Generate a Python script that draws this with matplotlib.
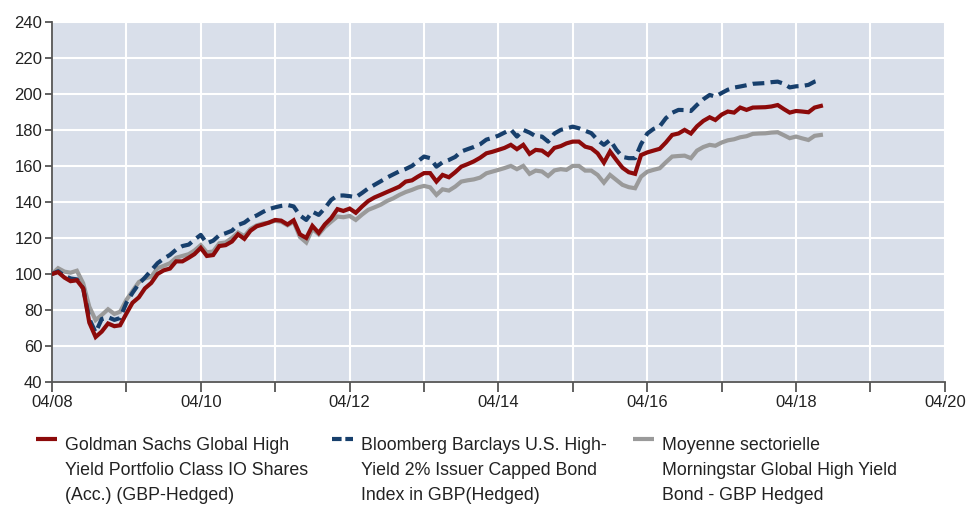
import matplotlib
matplotlib.use("Agg")
import matplotlib.pyplot as plt
from matplotlib import font_manager
from matplotlib.lines import Line2D
import pandas as pd

# monthly values, 04/2008 .. 08/2018 (base 100)
fund = [100, 101, 98, 96, 96.5, 92, 73, 65, 68, 72.5, 71, 71.5,
        78, 84, 87, 92, 95, 100, 102, 103, 107, 107, 109, 111,
        114.5, 110, 110.5, 115.5, 116, 118, 122, 119.5, 124, 126.5, 127.5, 128.5,
        130, 129.6, 127.5, 129.8, 122, 120, 126.7, 122.8, 127.5, 131, 136, 135,
        136.3, 134, 137.5, 140.5, 142.5, 144, 145.5, 147, 148.5, 151.3, 152, 154,
        156, 156, 151.3, 155, 153.7, 156.5, 159.6, 161, 162.5, 164.5, 167, 167.8,
        168.9, 170, 171.7, 169.3, 171.7, 166.7, 168.9, 168.5, 166.1, 170, 171, 172.5,
        173.5, 173.5, 170.7, 169.8, 167, 161.8, 168, 163.3, 159, 156.5, 155.6, 166,
        167.5, 168.5, 169.5, 173, 177.2, 178, 180, 178, 182, 185, 187, 185.5,
        188.5, 190.2, 189.6, 192.4, 191.1, 192.4, 192.5, 192.6, 193, 193.8, 191.5, 189.6,
        190.5, 190.2, 189.8, 192.4, 193.3]

index = [100, 101.5, 99, 97.5, 97, 92, 75, 67.5, 75, 76, 74.5, 75.5,
         84, 89.5, 94.5, 98, 102, 106, 108.5, 110.6, 113.5, 115.5, 116.3, 119,
         121.7, 117, 118.5, 121.5, 122.6, 124, 127.2, 128.5, 131, 132.5, 134.5, 136,
         137, 137.8, 138.3, 137.5, 132.5, 130, 134.6, 132.8, 136.5, 141.1, 143.5, 143.6,
         143.2, 142.6, 145, 147.5, 149.5, 151.5, 153.5, 155.3, 157, 158.3, 160, 162.5,
         165.2, 164.3, 159.6, 162, 163.3, 165, 168, 169.3, 170.5, 172, 174.6, 175.5,
         176.8, 178.5, 180.2, 176.3, 180, 178.5, 176.5, 176.3, 173.5, 178, 180, 180.8,
         181.8, 180.9, 179.5, 178.2, 174.4, 171.7, 174.4, 169, 165, 164.3, 164.3, 172,
         178, 180.5, 182, 186.5, 189.5, 191.1, 191, 190.5, 193.9, 197, 199.4, 198.5,
         200.5, 202.3, 203.5, 204.1, 204.8, 205.6, 205.8, 206, 206.5, 206.8, 205.6, 203.6,
         204.2, 204.4, 205, 206.8, 207.8]

peers = [100, 103.2, 101.3, 100.7, 101.8, 94.8, 81.8, 74.4, 77.2, 80.4, 77.8, 79,
         85.6, 90.5, 95.5, 97.5, 98.5, 103.2, 104.5, 106, 109, 110, 111, 113,
         116, 112, 112.5, 117, 117.5, 120, 123, 121, 125, 127, 128, 128.5,
         129.5, 129, 127, 129, 120.5, 117.5, 125, 122, 126, 129, 131.9, 131.5,
         132.2, 130, 133, 135.6, 137, 138.5, 140.5, 142, 143.9, 145.5, 146.7, 148,
         148.9, 148.1, 143.9, 147, 146.3, 148.5, 151.3, 152, 152.5, 153.5, 155.9, 156.8,
         157.8, 158.8, 160, 158.2, 160, 155.6, 157.4, 156.9, 154.4, 157.5, 158.2, 157.8,
         160, 160, 157.4, 157.4, 155, 150.7, 155, 152.2, 149.5, 148.2, 147.6, 154,
         156.8, 157.8, 158.7, 162, 165.2, 165.5, 165.7, 164.3, 168.5, 170.5, 171.7, 171.2,
         173, 174.2, 174.8, 175.9, 176.5, 177.8, 178, 178.1, 178.5, 178.7, 177, 175.4,
         176.3, 175.3, 174.4, 176.7, 177.2]

labels = ["Goldman Sachs Global High\nYield Portfolio Class IO Shares\n(Acc.) (GBP-Hedged)",
          "Bloomberg Barclays U.S. High-\nYield 2% Issuer Capped Bond\nIndex in GBP(Hedged)",
          "Moyenne sectorielle\nMorningstar Global High Yield\nBond - GBP Hedged"]

RED = "#8c0a0a"
BLUE = "#173f6c"
GREY = "#9a9a9a"
BG = "#d9dfea"
AX = "#555555"

# narrow face if the system has one, else plain Liberation Sans a bit smaller
names = {f.name for f in font_manager.fontManager.ttflist}
if "Liberation Sans Narrow" in names:
    FONT, TK, LG, LS = "Liberation Sans Narrow", 13, 15, 1.3
else:
    FONT, TK, LG, LS = "Liberation Sans", 12, 12.8, 1.62

plt.rcParams["font.family"] = [FONT, "DejaVu Sans"]

dates = pd.date_range("2008-04-01", periods=len(fund), freq="MS")

fig = plt.figure(figsize=(9.67, 5.08), dpi=100)
ax = fig.add_axes([0.0538, 0.248, 0.9234, 0.709])
ax.set_facecolor(BG)

ax.plot(dates, peers, color=GREY, lw=3.0, solid_joinstyle="miter", zorder=3)
ax.plot(dates, index, color=BLUE, lw=3.0, dashes=(2.8, 1.5), dash_capstyle="butt", zorder=4)
ax.plot(dates, fund, color=RED, lw=3.0, solid_joinstyle="miter", zorder=5)

ax.set_xlim(pd.Timestamp("2008-04-01"), pd.Timestamp("2020-04-01"))
ax.set_ylim(40, 240)
ax.set_yticks(range(40, 241, 20))

ticks = pd.date_range("2008-04-01", "2020-04-01", freq="12MS")
ax.set_xticks(ticks)
ax.set_xticklabels([d.strftime("%m/%y") if i % 2 == 0 else "" for i, d in enumerate(ticks)])

ax.grid(True, color="white", lw=1.5, zorder=1)
ax.set_axisbelow(True)
for s in ("top", "right"):
    ax.spines[s].set_visible(False)
for s in ("left", "bottom"):
    ax.spines[s].set_color(AX)
    ax.spines[s].set_linewidth(1.3)
ax.tick_params(axis="both", colors=AX, width=1.3, labelcolor="#222222", labelsize=TK)
ax.tick_params(axis="y", length=5, pad=2)
ax.tick_params(axis="x", length=7, pad=2)

# legend, drawn by hand so the key sits on the first text line
keys = [dict(color=RED), dict(color=BLUE, dashes=(2.3, 0.9)), dict(color=GREY)]
starts = [36, 332, 633]
for x0, lab, kw in zip(starts, labels, keys):
    xf0, xf1 = x0 / 967, (x0 + 21) / 967
    yf = 1 - 439 / 508
    fig.add_artist(Line2D([xf0, xf1], [yf, yf], lw=3.0, solid_capstyle="butt",
                          dash_capstyle="butt", transform=fig.transFigure, **kw))
    fig.text((x0 + 29) / 967, 1 - 437 / 508, lab, ha="left", va="top",
             fontsize=LG, linespacing=LS, color="#222222")

fig.savefig("out.png", dpi=100)
